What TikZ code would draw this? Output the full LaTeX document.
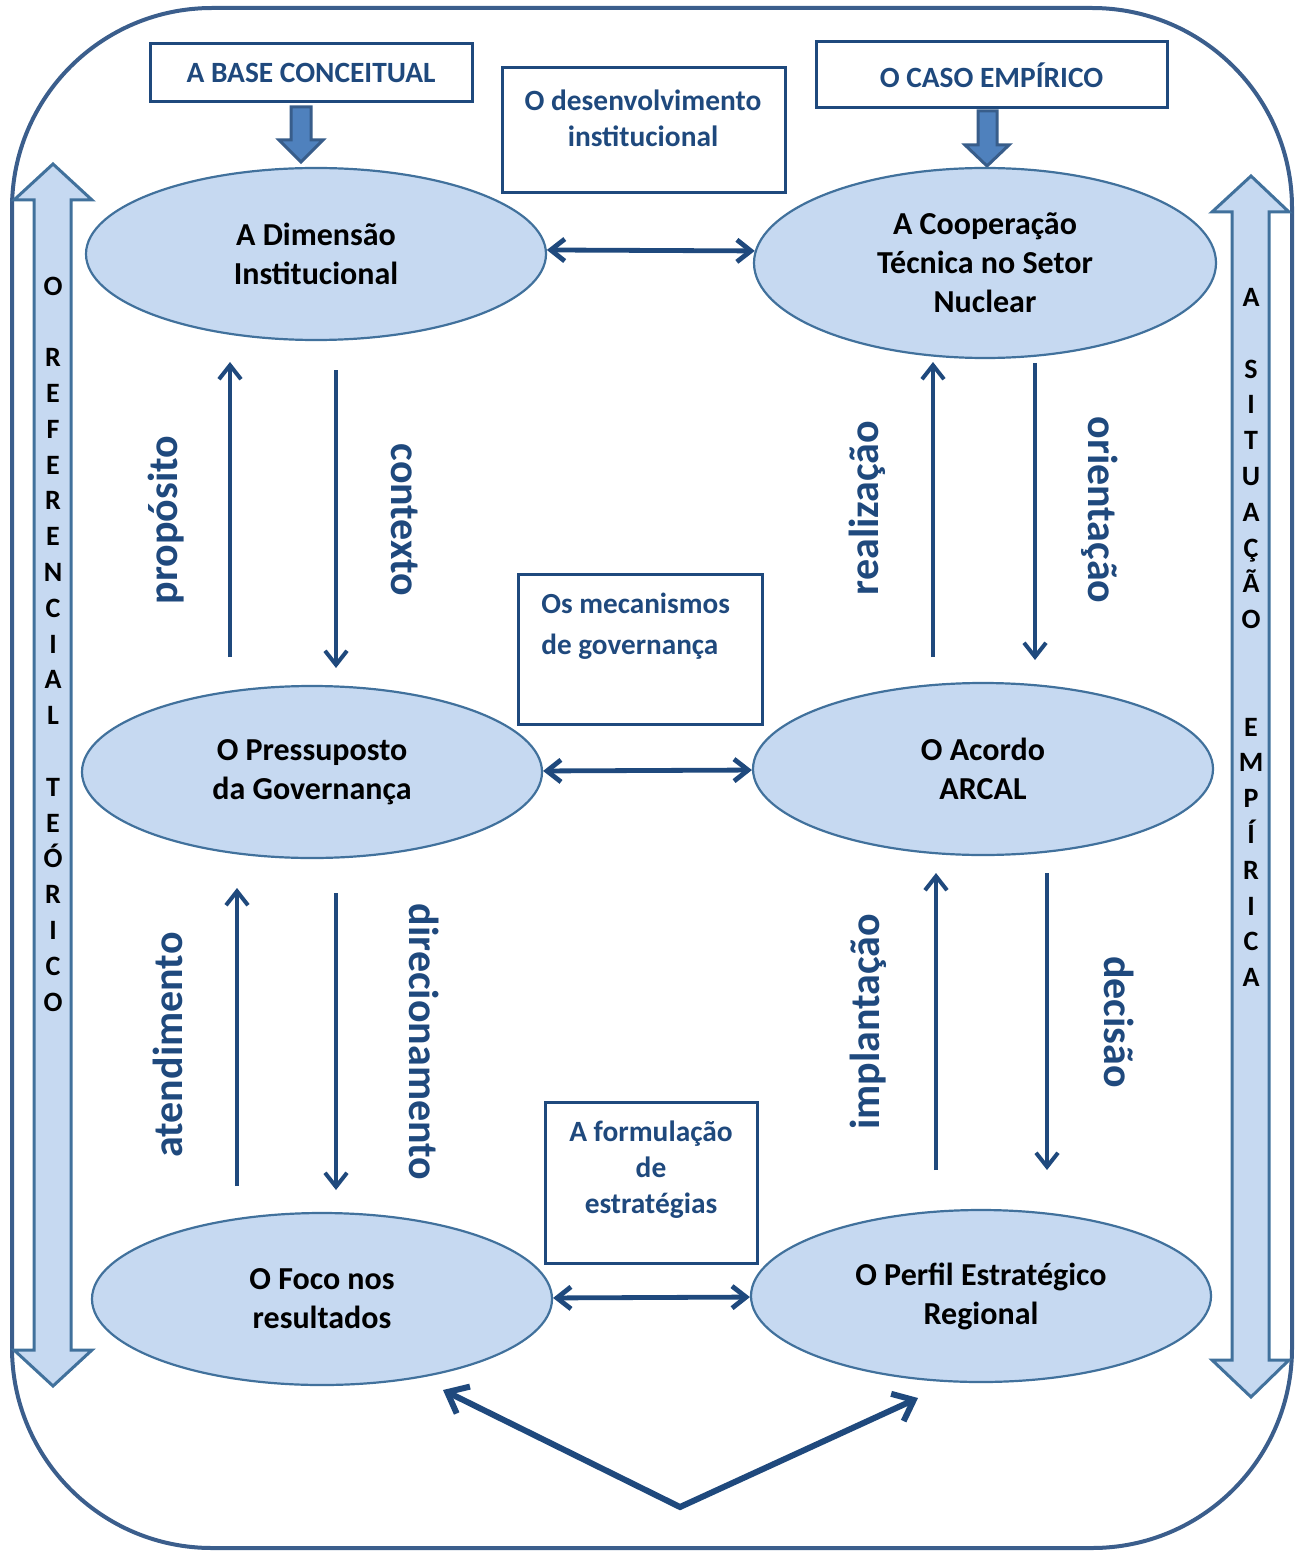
\documentclass[tikz,border=0pt]{standalone}
\usepackage{fontspec}
\setmainfont{Carlito}
\usetikzlibrary{arrows.meta,shapes.geometric,positioning}
\definecolor{frameblue}{HTML}{3B5E8C}
\definecolor{darkblue}{HTML}{1F497D}
\definecolor{lightblue}{HTML}{C6D9F1}
\definecolor{edgeblue}{HTML}{41719C}
\definecolor{midblue}{HTML}{4F81BD}
\definecolor{shadeblue}{HTML}{385D8A}

\begin{document}
\begin{tikzpicture}[x=0.5pt,y=-0.5pt]
		\tikzstyle{main}=[ellipse, draw=edgeblue, line width=1.1pt, fill=lightblue, align=center, inner sep=0pt, minimum width=230pt, minimum height=86pt, font=\fontsize{16}{19.5}\selectfont\bfseries]
		\tikzstyle{box}=[rectangle, draw=darkblue, line width=1.5pt, inner sep=0pt, text=darkblue, font=\fontsize{14.7}{18}\selectfont\bfseries]
		\tikzstyle{boxtext}=[align=center, inner sep=0pt, text=darkblue, font=\fontsize{14.7}{18}\selectfont\bfseries]
		\tikzstyle{connect}=[-{Straight Barb[length=7pt,width=11pt]}, line width=2pt, draw=darkblue]
		\tikzstyle{link}=[{Straight Barb[length=7pt,width=11pt]}-{Straight Barb[length=7pt,width=11pt]}, line width=2.4pt, draw=darkblue]
		\tikzstyle{lbl}=[inner sep=0pt, text=darkblue, font=\fontsize{21}{24}\selectfont\bfseries]
		\tikzstyle{side}=[align=center, inner sep=0pt, font=\fontsize{14}{17.9}\selectfont\bfseries]
		\tikzstyle{fatarrow}=[draw=edgeblue, line width=1.5pt, fill=lightblue]
		\tikzstyle{downarrow}=[draw=shadeblue, line width=1.5pt, fill=midblue]
		\useasboundingbox (0,0) rectangle (1303,1551);
		
		% outer frame
		\draw[frameblue, line width=2pt, rounded corners=100pt] (12,8) rectangle (1292,1548);
		
		% side arrows
		\draw[fatarrow] (53,164) -- (92,200) -- (71,200) -- (71,1350) -- (92,1350) -- (53,1386) -- (14,1350) -- (34,1350) -- (34,200) -- (14,200) -- cycle;
		\draw[fatarrow] (1251,176) -- (1289,212) -- (1269,212) -- (1269,1360) -- (1289,1360) -- (1251,1397) -- (1212,1360) -- (1232,1360) -- (1232,212) -- (1212,212) -- cycle;
		\node[side] (referencial) at (53,644) {O\\~\\R\\E\\F\\E\\R\\E\\N\\C\\I\\A\\L\\~\\T\\E\\Ó\\R\\I\\C\\O};
		\node[side] (situacao) at (1251,637.5) {A\\~\\S\\I\\T\\U\\A\\Ç\\Ã\\O\\~\\~\\E\\M\\P\\Í\\R\\I\\C\\A};
		
		% top boxes
		\node[box, minimum width=161pt, minimum height=29pt] (base) at (311,73) {A BASE CONCEITUAL};
		\node[box, minimum width=175.5pt, minimum height=33pt] (caso) at (991.5,75) {O CASO EMPÍRICO};
		\draw[downarrow] (291,107) -- (311,107) -- (311,140) -- (323,140) -- (301,162) -- (279,140) -- (291,140) -- cycle;
		\draw[downarrow] (978,111) -- (997,111) -- (997,145) -- (1009,145) -- (987,166) -- (965,145) -- (978,145) -- cycle;
		
		\node[box, minimum width=141.5pt, minimum height=62.5pt] (dev) at (643.5,130.5) {};
		\node[boxtext] (devtext) at (643,118) {O desenvolvimento\\institucional};
		\node[box, minimum width=122pt, minimum height=75pt] (mech) at (640,649) {};
		\node[boxtext, align=left, font=\fontsize{14.6}{20.5}\selectfont\bfseries, anchor=west] (mechtext) at (541,626.5) {Os mecanismos\\de governança};
		\node[box, minimum width=106pt, minimum height=80.5pt] (form) at (651,1182.5) {};
		\node[boxtext] (formtext) at (651,1170) {A formulação\\de\\estratégias};
		
		% ellipses
		\node[main] (dim) at (316,254) {A Dimensão\\Institucional};
		\node[main, minimum width=231pt, minimum height=95pt] (coop) at (985,263) {A Cooperação\\Técnica no Setor\\Nuclear};
		\node[main] (press) at (312,772) {O Pressuposto\\da Governança};
		\node[main] (arcal) at (983,769) {O Acordo\\ARCAL};
		\node[main] (foco) at (322,1299) {O Foco nos\\resultados};
		\node[main] (perfil) at (981,1296) {O Perfil Estratégico\\Regional};
		
		\path (dim.1) edge [link] (coop.177);
		\path (press) edge [link] (arcal);
		\path (foco) edge [link] (perfil);
		
		% vertical arrows
		\coordinate (u1) at (230,657); \coordinate (u1e) at (230,362);
		\coordinate (d1) at (336,370); \coordinate (d1e) at (336,668);
		\coordinate (u2) at (933,657); \coordinate (u2e) at (933,362);
		\coordinate (d2) at (1035,363); \coordinate (d2e) at (1035,660);
		\coordinate (u3) at (237,1186); \coordinate (u3e) at (237,888);
		\coordinate (d3) at (336,893); \coordinate (d3e) at (336,1190);
		\coordinate (u4) at (936,1170); \coordinate (u4e) at (936,873);
		\coordinate (d4) at (1047,873); \coordinate (d4e) at (1047,1170);
		\path (u1) edge [connect] (u1e);
		\path (d1) edge [connect] (d1e);
		\path (u2) edge [connect] (u2e);
		\path (d2) edge [connect] (d2e);
		\path (u3) edge [connect] (u3e);
		\path (d3) edge [connect] (d3e);
		\path (u4) edge [connect] (u4e);
		\path (d4) edge [connect] (d4e);
		
		\node[lbl, rotate=90] (proposito) at (166,520) {propósito};
		\node[lbl, rotate=-90] (contexto) at (405,520) {contexto};
		\node[lbl, rotate=90] (realizacao) at (867,508) {realização};
		\node[lbl, rotate=-90] (orientacao) at (1100,510) {orientação};
		\node[lbl, rotate=90] (atendimento) at (168,1045) {atendimento};
		\node[lbl, rotate=-90] (direcionamento) at (424,1042) {direcionamento};
		\node[lbl, rotate=90] (implantacao) at (868,1022) {implantação};
		\node[lbl, rotate=-90] (decisao) at (1119,1022) {decisão};
		
		% bottom
		\coordinate (apex) at (680,1507);
		\coordinate (vl) at (443,1390);
		\coordinate (vr) at (918,1398);
		\draw[{Straight Barb[length=9pt,width=15pt]}-{Straight Barb[length=9pt,width=15pt]}, line width=3pt, draw=darkblue, line join=miter] (vl) -- (apex) -- (vr);
	\end{tikzpicture}
\end{document}
